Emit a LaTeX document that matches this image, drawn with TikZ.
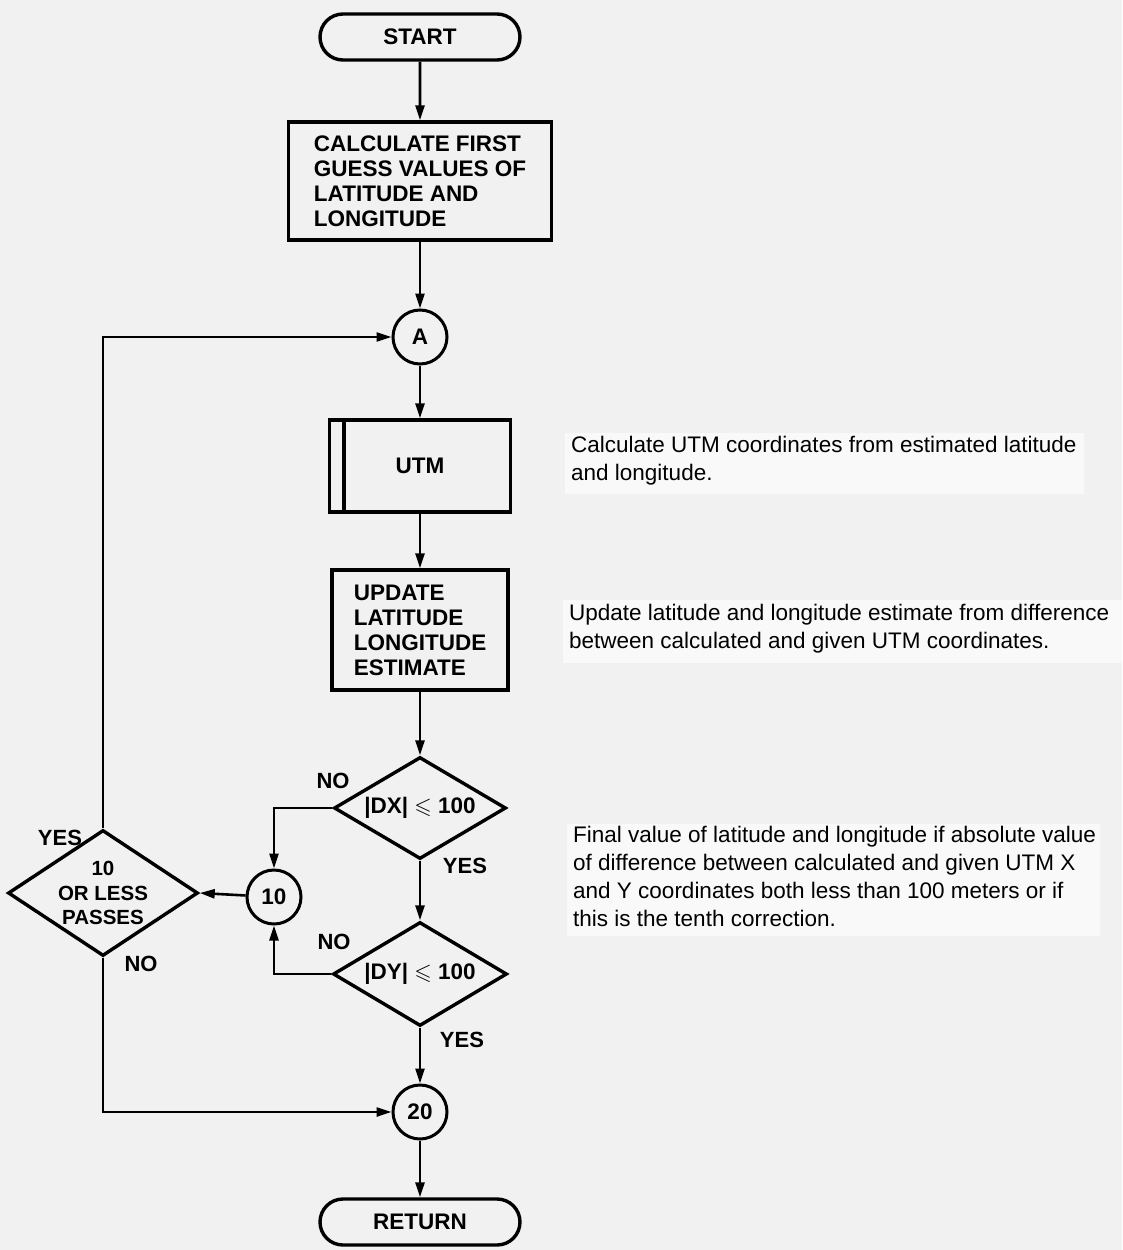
\documentclass[tikz,border=0pt]{standalone}
\usepackage{fontspec}
\usepackage{amssymb}
\setmainfont{Liberation Sans}
\usetikzlibrary{arrows.meta,shapes.geometric,shapes.misc}
\definecolor{paper}{HTML}{F1F1F1}
\definecolor{strip}{HTML}{F9F9F9}
\tikzset{
  boxfont/.style={font=\bfseries\fontsize{22.5}{25}\selectfont},
  terminal/.style={draw, line width=3.4pt, rounded rectangle, minimum width=200pt,
    minimum height=46pt, inner sep=0pt, boxfont},
  procbox/.style={draw, line width=3.4pt, rectangle, align=left, inner sep=0pt, boxfont},
  conn/.style={draw, circle, line width=3pt, minimum size=54pt, inner sep=0pt, boxfont},
  decision/.style={draw, diamond, line width=3.4pt, inner sep=0pt},
  flow/.style={line width=2.6pt, -{Triangle[length=15pt,width=9pt]}},
  tag/.style={font=\bfseries\fontsize{22}{24}\selectfont},
  note/.style={anchor=north west, align=left, font=\fontsize{22.5}{28}\selectfont, inner sep=0pt},
}
\begin{document}
\begin{tikzpicture}[x=1pt,y=-1pt]
\useasboundingbox (0,0) rectangle (1122,1250);
\fill[paper] (0,0) rectangle (1122,1250);

% light strips behind the explanatory notes
\fill[strip] (565,433) rectangle (1084,494);
\fill[strip] (563,600) rectangle (1122,663);
\fill[strip] (567,824) rectangle (1100,936);

% main flow
\node[terminal] (start) at (420,37) {START};
\node[procbox, minimum width=263pt, minimum height=118pt] (calc) at (420,181)
  {CALCULATE FIRST\\GUESS VALUES OF\\LATITUDE AND\\LONGITUDE};
\node[conn] (A) at (420,337) {A};
\node[procbox, minimum width=181pt, minimum height=92pt, align=center] (utm) at (420,466) {UTM};
\draw[line width=3.4pt] ([xshift=16pt]utm.north west) -- ([xshift=16pt]utm.south west);
\node[procbox, minimum width=176pt, minimum height=120pt] (upd) at (420,630)
  {UPDATE\\LATITUDE\\LONGITUDE\\ESTIMATE};
\node[decision, minimum width=172pt, minimum height=102pt] (dx) at (420,808) {};
\node[boxfont] at (dx) {|DX| $\leqslant$ 100};
\node[decision, minimum width=174pt, minimum height=104pt] (dy) at (420,974) {};
\node[boxfont] at (dy) {|DY| $\leqslant$ 100};
\node[conn] (ten) at (274,897) {10};
\node[decision, minimum width=190pt, minimum height=126pt] (lp) at (103,893) {};
\node[align=center, font=\bfseries\fontsize{20.5}{24.5}\selectfont] at (lp) {10\\OR LESS\\PASSES};
\node[conn] (twenty) at (420,1112) {20};
\node[terminal] (ret) at (420,1222) {RETURN};

% connectors
\draw[flow] (start) -- (calc);
\draw[flow] (calc) -- (A);
\draw[flow] (A) -- (utm);
\draw[flow] (utm) -- (upd);
\draw[flow] (upd) -- (dx);
\draw[flow] (dx) -- (dy);
\draw[flow] (dx.west) -| (ten.north);
\draw[flow] (dy.west) -| (ten.south);
\draw[flow] (ten) -- (lp.east);
\draw[flow] (lp.north) |- (A.west);
\draw[flow] (lp.south) |- (twenty.west);
\draw[flow] (dy) -- (twenty);
\draw[flow] (twenty) -- (ret);

% branch labels
\node[tag] at (333,781) {NO};
\node[tag] at (465,866) {YES};
\node[tag] at (334,942) {NO};
\node[tag] at (462,1040) {YES};
\node[tag] at (60,838) {YES};
\node[tag] at (141,964) {NO};

% notes
\node[note] (n1) at (571,436) {Calculate UTM coordinates from estimated latitude\\and longitude.};
\node[note] (n2) at (569,604) {Update latitude and longitude estimate from difference\\between calculated and given UTM coordinates.};
\node[note] (n3) at (573,826) {Final value of latitude and longitude if absolute value\\of difference between calculated and given UTM X\\and Y coordinates both less than 100 meters or if\\this is the tenth correction.};
\end{tikzpicture}
\end{document}
